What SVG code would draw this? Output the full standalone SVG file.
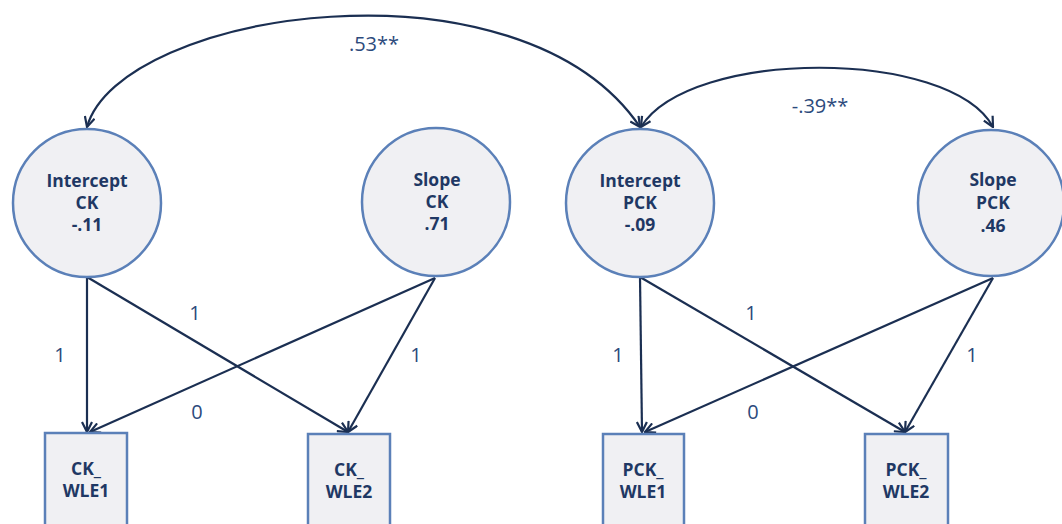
<svg xmlns="http://www.w3.org/2000/svg" width="1062" height="524" viewBox="0 0 1062 524">
<defs>
<marker id="ah" viewBox="0 0 12 12" refX="11" refY="6" markerWidth="12" markerHeight="12" markerUnits="userSpaceOnUse" orient="auto-start-reverse">
<path d="M1,1 L11,6 L1,11" fill="none" stroke="#1b2f52" stroke-width="2.2"/>
</marker>
<style>
.lat{fill:#f0f0f3;stroke:#5b80b8;stroke-width:2.5}
.obs{fill:#f0f0f3;stroke:#5b80b8;stroke-width:2.5}
.nt{font-family:"Open Sans",sans-serif;font-weight:bold;font-size:17.5px;fill:#1f3864;text-anchor:middle}
.con{fill:none;stroke:#1b2f52;stroke-width:2.2;marker-end:url(#ah)}
.cov{fill:none;stroke:#1b2f52;stroke-width:2.2;marker-end:url(#ah);marker-start:url(#ah)}
.lb{font-family:"Open Sans",sans-serif;font-size:20px;fill:#2c4a7c;text-anchor:middle}
</style>
</defs>
<rect width="1062" height="524" fill="#ffffff"/>
<g id="connectors">
<path class="cov" d="M87,127 C120,10 520,-50 640,127"/>
<path class="cov" d="M641,127 C690,48 950,48 993,127"/>
<path class="con" d="M87,277 L87,432"/>
<path class="con" d="M87,277 L348,432"/>
<path class="con" d="M435,278 L90,432"/>
<path class="con" d="M435,278 L348,432"/>
<path class="con" d="M640,277 L642,432"/>
<path class="con" d="M640,277 L905,432"/>
<path class="con" d="M993,278 L645,432"/>
<path class="con" d="M993,278 L905,432"/>
</g>
<g id="labels">
<text class="lb" x="374" y="51">.53**</text>
<text class="lb" x="820" y="113">-.39**</text>
<text class="lb" x="60" y="362">1</text>
<text class="lb" x="195" y="320">1</text>
<text class="lb" x="197" y="419">0</text>
<text class="lb" x="416" y="362">1</text>
<text class="lb" x="618" y="362">1</text>
<text class="lb" x="751" y="320">1</text>
<text class="lb" x="753" y="419">0</text>
<text class="lb" x="972" y="362">1</text>
</g>
<g id="intercept-ck">
<circle class="lat" cx="87" cy="203" r="74"/>
<text class="nt" x="87" y="187">Intercept</text>
<text class="nt" x="87" y="209">CK</text>
<text class="nt" x="87" y="231">-.11</text>
</g>
<g id="slope-ck">
<circle class="lat" cx="436" cy="202" r="74"/>
<text class="nt" x="437" y="186">Slope</text>
<text class="nt" x="437" y="208">CK</text>
<text class="nt" x="437" y="230">.71</text>
</g>
<g id="intercept-pck">
<circle class="lat" cx="640" cy="203" r="74"/>
<text class="nt" x="640" y="187">Intercept</text>
<text class="nt" x="640" y="209">PCK</text>
<text class="nt" x="640" y="231">-.09</text>
</g>
<g id="slope-pck">
<circle class="lat" cx="991" cy="203" r="73"/>
<text class="nt" x="993" y="186">Slope</text>
<text class="nt" x="993" y="209">PCK</text>
<text class="nt" x="993" y="232">.46</text>
</g>
<g id="ck-wle1">
<rect class="obs" x="45" y="433" width="82" height="110"/>
<text class="nt" x="86" y="475">CK_</text>
<text class="nt" x="86" y="497">WLE1</text>
</g>
<g id="ck-wle2">
<rect class="obs" x="308" y="434" width="82" height="110"/>
<text class="nt" x="349" y="476">CK_</text>
<text class="nt" x="349" y="498">WLE2</text>
</g>
<g id="pck-wle1">
<rect class="obs" x="603" y="434" width="81" height="110"/>
<text class="nt" x="643" y="476">PCK_</text>
<text class="nt" x="643" y="498">WLE1</text>
</g>
<g id="pck-wle2">
<rect class="obs" x="865" y="434" width="83" height="110"/>
<text class="nt" x="906" y="476">PCK_</text>
<text class="nt" x="906" y="498">WLE2</text>
</g>
</svg>
